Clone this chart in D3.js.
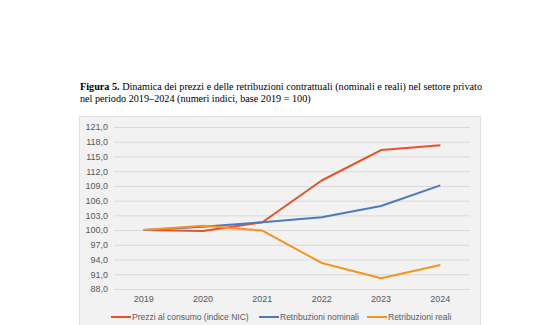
<!DOCTYPE html>
<html><head><meta charset="utf-8">
<script src="https://cdn.jsdelivr.net/npm/d3@7"></script>
<style>body{margin:0;background:#fff;}svg{display:block;}</style>
</head><body>
<svg id="c" width="560" height="325"></svg>
<script>
const years = ["2019","2020","2021","2022","2023","2024"];
const prezzi = [100, 99.8, 101.6, 110.1, 116.3, 117.3];
const nominali = [100, 100.7, 101.6, 102.6, 104.9, 109.1];
const reali = [100, 100.9, 99.9, 93.3, 90.2, 92.9];
const yTicks = [88, 91, 94, 97, 100, 103, 106, 109, 112, 115, 118, 121];
const seriesNames = ["Prezzi al consumo (indice NIC)", "Retribuzioni nominali", "Retribuzioni reali"];
const seriesColors = ["#E8522A", "#4A7AC0", "#F7941D"];
const seriesData = [prezzi, nominali, reali];

const svg = d3.select("#c");
const fmt = v => v.toFixed(1).replace(".", ",");

// title
const t = svg.append("text").attr("font-family","Liberation Serif, Times New Roman, serif").attr("font-size",10.2).attr("fill","#000");
const l1 = t.append("tspan").attr("x",80).attr("y",90);
l1.append("tspan").attr("font-weight","bold").text("Figura 5.");
l1.append("tspan").text(" Dinamica dei prezzi e delle retribuzioni contrattuali (nominali e reali) nel settore privato");
t.append("tspan").attr("x",80).attr("y",102).text("nel periodo 2019\u20132024 (numeri indici, base 2019 = 100)");

// background
svg.append("rect").attr("x",79.5).attr("y",116.5).attr("width",401).attr("height",212)
  .attr("fill","#f2f2f2").attr("stroke","#e0e0e0");

const x = d3.scaleBand().domain(years).range([114,470]);
const y = d3.scaleLinear().domain([88,121]).range([289,127]);

// grid
const yAxis = d3.axisLeft(y).tickValues(yTicks).tickFormat(fmt).tickSize(-(470-114)).tickPadding(6);
const gy = svg.append("g").attr("transform","translate(114,0)").call(yAxis);
gy.select(".domain").remove();
gy.selectAll(".tick line").attr("stroke","#d9d9d9").attr("stroke-width",1);
gy.selectAll(".tick text").attr("font-family","Liberation Sans, Arial, sans-serif").attr("font-size",9).attr("fill","#595959");

const xAxis = d3.axisBottom(x).tickSize(0).tickPadding(7);
const gx = svg.append("g").attr("transform","translate(0,289)").call(xAxis);
gx.select(".domain").remove();
gx.selectAll(".tick text").attr("font-family","Liberation Sans, Arial, sans-serif").attr("font-size",9).attr("fill","#595959");

const line = d3.line().x((d,i)=>x(years[i])+x.bandwidth()/2).y(d=>y(d));
seriesData.forEach((s,k)=>{
  svg.append("path").datum(s).attr("d",line).attr("fill","none")
    .attr("stroke",seriesColors[k]).attr("stroke-width",2).attr("stroke-linejoin","round");
});

// legend
const legX = [111, 259, 367];
seriesNames.forEach((n,k)=>{
  const g = svg.append("g").attr("transform",`translate(${legX[k]},317)`);
  g.append("line").attr("x1",0).attr("x2",20).attr("y1",0).attr("y2",0).attr("stroke",seriesColors[k]).attr("stroke-width",2);
  g.append("text").attr("x",21).attr("y",3).attr("font-family","Liberation Sans, Arial, sans-serif").attr("font-size",8.5).attr("fill","#595959").text(n);
});
</script>
</body></html>
